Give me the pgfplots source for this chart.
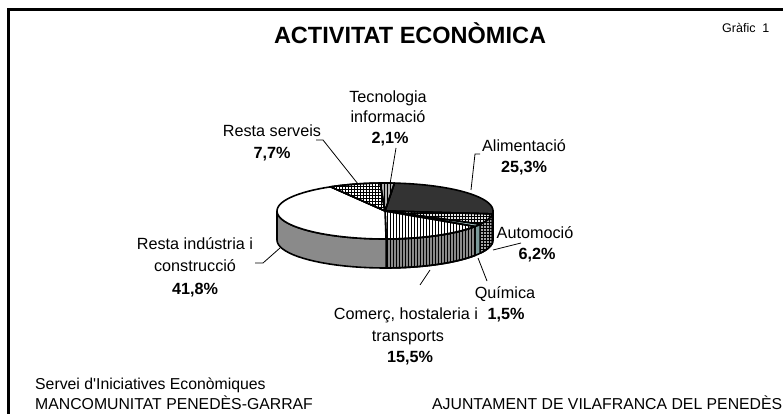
\documentclass[border=0pt]{standalone}
\usepackage{fontspec}
\setmainfont{Liberation Sans}
\usepackage{pgfplots}
\pgfplotsset{compat=1.18}
\usepackage{pgfplotstable}
\usetikzlibrary{patterns}

\pgfplotstableread{
label value
Alimentacio 25.3
Automocio 6.2
Quimica 1.5
Comerc 15.5
RestaIndustria 41.8
RestaServeis 7.7
Tecnologia 2.1
}\piedata

\def\cx{385}\def\cy{211}\def\ra{108}\def\rb{28}\def\dep{29}\def\rot{5}
\def\tot{100.1}
\newcommand\getv[2]{\pgfplotstablegetelem{#1}{value}\of\piedata\global\let#2\pgfplotsretval}
\getv{0}\vA \getv{1}\vB \getv{2}\vC \getv{3}\vD \getv{4}\vE \getv{5}\vF \getv{6}\vG
\pgfmathsetmacro\tA{\rot}
\pgfmathsetmacro\tB{\tA+\vA*360/\tot}
\pgfmathsetmacro\tC{\tB+\vB*360/\tot}
\pgfmathsetmacro\tD{\tC+\vC*360/\tot}
\pgfmathsetmacro\tE{\tD+\vD*360/\tot}
\pgfmathsetmacro\tF{\tE+\vE*360/\tot}
\pgfmathsetmacro\tG{\tF+\vF*360/\tot}
\pgfmathsetmacro\tH{\tG+\vG*360/\tot}
\pgfmathsetmacro\sideEend{min(\tF,270)}

\newcommand\side[3]{%
 \addplot[#3, draw=black, line width=1.6pt, line join=round, variable=\u,
   samples at={0,1,...,20,20.001,21,22,...,40}]
  ({\cx+\ra*sin(\u<=20 ? (#1)+((#2)-(#1))*\u/20 : (#2)-((#2)-(#1))*(\u-20)/20)},
   {\cy-\rb*cos(\u<=20 ? (#1)+((#2)-(#1))*\u/20 : (#2)-((#2)-(#1))*(\u-20)/20)+(\u>20 ? \dep : 0)}) -- cycle;}
\newcommand\topface[3]{%
 \addplot[#3, draw=black, line width=1.6pt, line join=round, variable=\u, domain=#1:#2, samples=40]
  ({\cx+\ra*sin(\u)},{\cy-\rb*cos(\u)}) -- (axis cs:\cx,\cy) -- cycle;}

\definecolor{quim}{HTML}{A3C2C2}
\definecolor{quimd}{HTML}{7A9999}
\definecolor{sidegray}{HTML}{8A8A8A}
\newcommand\lbl{\fontsize{16.2}{19}\selectfont}
\newcommand\ftr{\fontsize{15.8}{19}\selectfont}

\begin{document}
\begin{tikzpicture}
\begin{axis}[width=783pt, height=414pt, scale only axis,
  xmin=0, xmax=783, ymin=0, ymax=414, y dir=reverse,
  hide axis, clip=false]
% frame
\addplot[black, line width=2.5pt, line join=miter] coordinates {(8.5,414) (8.5,9.5) (783,9.5)};
% sides
\side{90}{\tB}{fill=black!85}
\side{\tB}{\tC}{fill=gray!70, postaction={pattern=grid}}
\side{\tC}{\tD}{fill=quimd}
\side{\tD}{\tE}{fill=sidegray, postaction={pattern=vertical lines}}
\side{\tE}{\sideEend}{fill=sidegray}
% tops
\topface{\tA}{\tB}{fill=black!80}
\topface{\tB}{\tC}{fill=gray!20, postaction={pattern=grid}}
\topface{\tC}{\tD}{fill=quim}
\topface{\tD}{\tE}{fill=white, postaction={pattern=vertical lines}}
\topface{\tE}{\tF}{fill=white}
\topface{\tF}{\tG}{fill=white, postaction={pattern=grid}}
\topface{\tG}{\tH}{fill=gray!60, postaction={pattern=vertical lines}}
% leader lines
\addplot[black, line width=0.8pt] coordinates {(396,148) (390,184)};
\addplot[black, line width=0.8pt] coordinates {(480,154) (475,154) (471,190)};
\addplot[black, line width=0.8pt] coordinates {(316,140) (323,140) (358,184)};
\addplot[black, line width=0.8pt] coordinates {(493,250) (521,243)};
\addplot[black, line width=0.8pt] coordinates {(478,258) (487,281)};
\addplot[black, line width=0.8pt] coordinates {(430,270) (420,285)};
\addplot[black, line width=0.8pt] coordinates {(255,263) (263,263) (280,248)};
% labels
\begin{scope}[every node/.style={inner sep=0pt, anchor=base, font=\lbl}]
\node at (axis cs:388,102.5) {Tecnologia};
\node at (axis cs:388,123) {informació};
\node[font=\lbl\bfseries] at (axis cs:390,144) {2,1\%};
\node at (axis cs:272,136.5) {Resta serveis};
\node[font=\lbl\bfseries] at (axis cs:272,158.5) {7,7\%};
\node at (axis cs:524,151.5) {Alimentació};
\node[font=\lbl\bfseries] at (axis cs:524,172.5) {25,3\%};
\node at (axis cs:535,238.5) {Automoció};
\node[font=\lbl\bfseries] at (axis cs:537,259.5) {6,2\%};
\node at (axis cs:505,298.5) {Química};
\node[font=\lbl\bfseries] at (axis cs:506,319.5) {1,5\%};
\node at (axis cs:406,319.5) {Comerç, hostaleria i};
\node at (axis cs:408,341) {transports};
\node[font=\lbl\bfseries] at (axis cs:410,362.5) {15,5\%};
\node at (axis cs:195,249.5) {Resta indústria i};
\node at (axis cs:195,271.5) {construcció};
\node[font=\lbl\bfseries] at (axis cs:195,294.5) {41,8\%};
\node[font=\fontsize{23.5}{26}\selectfont\bfseries] at (axis cs:410,44) {ACTIVITAT ECONÒMICA};
\node[anchor=base west, font=\fontsize{12.5}{14}\selectfont] at (axis cs:722,33) {Gràfic~~1};
\node[anchor=base west, font=\ftr] at (axis cs:35,389) {Servei d\textquotesingle Iniciatives Econòmiques};
\node[anchor=base west, font=\ftr] at (axis cs:35,409.5) {MANCOMUNITAT PENEDÈS-GARRAF};
\node[anchor=base west, font=\ftr] at (axis cs:432,409.5) {AJUNTAMENT DE VILAFRANCA DEL PENEDÈS};
\end{scope}
\end{axis}
\pgfresetboundingbox
\path[use as bounding box] (current axis.south west) rectangle (current axis.north east);
\end{tikzpicture}
\end{document}
